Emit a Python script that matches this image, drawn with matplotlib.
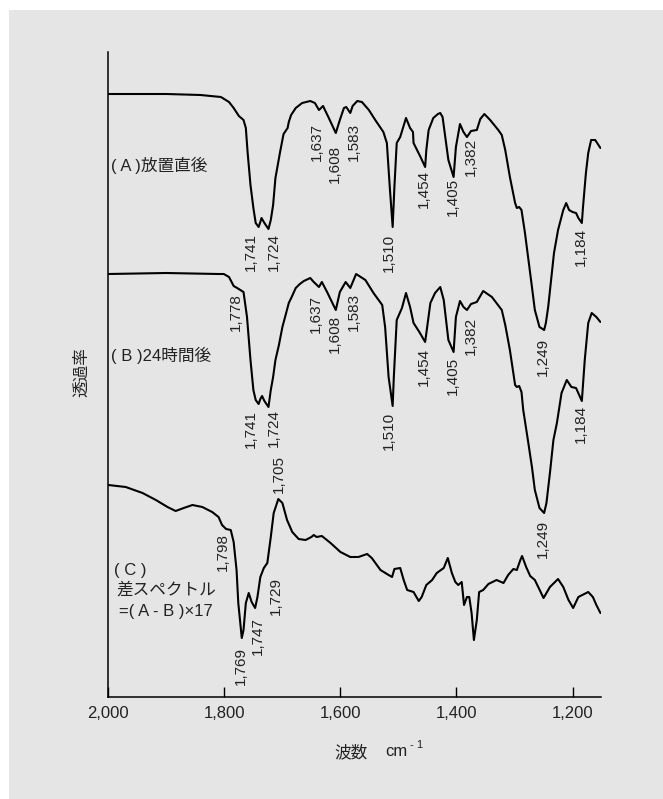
import matplotlib
matplotlib.use("Agg")
import matplotlib.pyplot as plt
from matplotlib.patches import Rectangle

plt.rcParams['font.family'] = ['Liberation Sans', 'Noto Sans CJK JP']

# spectrum (A) right after standing
wn_a = [2000, 1900, 1841, 1806, 1792, 1784, 1775, 1767, 1763, 1760, 1755, 1750, 1746,
        1741, 1738, 1736, 1731, 1724, 1720, 1716, 1712, 1704, 1698, 1691, 1689, 1685,
        1677, 1666, 1652, 1644, 1637, 1630, 1620, 1608, 1601, 1594, 1590, 1583, 1579,
        1571, 1563, 1551, 1540, 1526, 1520, 1515, 1510, 1507, 1503, 1497, 1487, 1480,
        1475, 1474, 1462, 1454, 1452, 1448, 1440, 1432, 1428, 1424, 1414, 1405, 1401,
        1394, 1388, 1382, 1375, 1365, 1359, 1352, 1342, 1328, 1322, 1316, 1308, 1299,
        1296, 1292, 1288, 1282, 1276, 1270, 1265, 1257, 1249, 1246, 1242, 1237, 1232,
        1225, 1216, 1211, 1206, 1200, 1194, 1190, 1184, 1182, 1177, 1173, 1168, 1161,
        1152]
t_a = [603, 603, 602, 600, 595, 589, 581, 577, 569, 545, 512, 489, 474,
       470, 475, 479, 474, 468, 477, 492, 519, 545, 563, 569, 575, 582,
       589, 594, 596, 594, 587, 591, 579, 564, 577, 589, 590, 584, 591,
       596, 595, 587, 577, 565, 554, 510, 470, 510, 554, 560, 579, 569,
       565, 554, 540, 530, 547, 567, 579, 583, 584, 580, 537, 520, 550,
       573, 565, 560, 566, 567, 578, 583, 577, 567, 562, 547, 520, 494,
       489, 490, 487, 464, 437, 410, 387, 370, 367, 374, 390, 417, 444,
       467, 487, 494, 487, 485, 484, 479, 474, 490, 524, 544, 557, 557,
       549]

# spectrum (B) after 24 hours
wn_b = [2000, 1900, 1810, 1801, 1792, 1784, 1778, 1767, 1761, 1755, 1750, 1746, 1741,
        1738, 1735, 1731, 1724, 1720, 1716, 1712, 1706, 1700, 1694, 1689, 1684, 1677,
        1670, 1663, 1652, 1646, 1637, 1632, 1623, 1608, 1601, 1591, 1583, 1573, 1557,
        1543, 1528, 1523, 1517, 1510, 1508, 1503, 1494, 1487, 1480, 1474, 1464, 1454,
        1445, 1437, 1428, 1422, 1414, 1405, 1401, 1394, 1388, 1382, 1375, 1365, 1354,
        1339, 1322, 1316, 1308, 1299, 1296, 1292, 1288, 1285, 1277, 1270, 1265, 1257,
        1249, 1245, 1239, 1233, 1227, 1219, 1210, 1202, 1194, 1184, 1179, 1173, 1167,
        1159, 1152]
t_b = [423, 424, 423, 423, 420, 411, 409, 405, 380, 337, 307, 297, 293,
       298, 301, 296, 290, 307, 320, 337, 352, 370, 383, 394, 400, 409,
       413, 416, 419, 415, 410, 415, 405, 387, 405, 415, 409, 423, 417,
       404, 392, 370, 320, 291, 320, 377, 389, 404, 390, 374, 365, 355,
       394, 404, 410, 397, 357, 345, 380, 396, 390, 387, 393, 395, 406,
       400, 387, 372, 347, 312, 310, 311, 305, 287, 257, 230, 207, 189,
       184, 194, 224, 257, 274, 304, 317, 310, 309, 296, 337, 374, 384,
       380, 375]

# spectrum (C) difference (A - B) x 17
wn_c = [2000, 1970, 1941, 1918, 1898, 1884, 1870, 1855, 1838, 1821, 1810, 1804, 1797,
        1789, 1784, 1779, 1776, 1770, 1767, 1763, 1758, 1753, 1747, 1743, 1738, 1732,
        1726, 1720, 1715, 1707, 1700, 1692, 1683, 1672, 1660, 1650, 1646, 1641, 1632,
        1617, 1600, 1583, 1569, 1554, 1546, 1531, 1517, 1511, 1507, 1497, 1491, 1485,
        1474, 1465, 1460, 1452, 1442, 1434, 1422, 1415, 1408, 1402, 1397, 1391, 1387,
        1382, 1378, 1374, 1370, 1365, 1361, 1354, 1345, 1331, 1319, 1311, 1302, 1296,
        1290, 1287, 1280, 1273, 1265, 1250, 1239, 1225, 1216, 1207, 1199, 1190, 1173,
        1165, 1159, 1152]
t_c = [212, 210, 204, 197, 190, 186, 189, 192, 190, 185, 180, 172, 168,
       167, 155, 127, 94, 59, 67, 94, 104, 95, 89, 100, 120, 129,
       134, 160, 184, 198, 194, 177, 165, 158, 157, 160, 162, 160, 161,
       154, 145, 140, 140, 143, 139, 127, 122, 120, 128, 129, 117, 107,
       105, 96, 100, 112, 117, 124, 129, 139, 124, 115, 112, 115, 92,
       100, 100, 84, 57, 77, 105, 107, 113, 117, 114, 122, 128, 127,
       137, 141, 130, 121, 117, 99, 110, 118, 110, 97, 89, 100, 105,
       100, 92, 84]

# peak labels: text, x, y  (va top = below the curve)
peaks_below = [
    ("1,741", 1754, 464), ("1,724", 1715, 464), ("1,637", 1640, 574),
    ("1,608", 1609, 552), ("1,583", 1576, 574), ("1,510", 1517, 463),
    ("1,454", 1456, 527), ("1,405", 1406, 519), ("1,382", 1375, 559),
    ("1,249", 1251, 359), ("1,184", 1186, 469),
    ("1,778", 1781, 404), ("1,637", 1643, 402), ("1,608", 1609, 382),
    ("1,583", 1576, 404), ("1,454", 1456, 349), ("1,405", 1406, 340),
    ("1,382", 1375, 380), ("1,741", 1754, 287), ("1,724", 1715, 288),
    ("1,510", 1517, 285), ("1,184", 1186, 292), ("1,249", 1251, 177),
    ("1,798", 1802, 164), ("1,769", 1772, 50), ("1,747", 1743, 80),
    ("1,729", 1712, 120),
]
peaks_above = [("1,705", 1706, 204)]

xticks = [2000, 1800, 1600, 1400, 1200]
xtick_labels = ["2,000", "1,800", "1,600", "1,400", "1,200"]

W, H = 663, 799
fig = plt.figure(figsize=(W / 100, H / 100), dpi=100, facecolor='white')
fig.patches.append(Rectangle((9 / W, 0), 1, 1 - 10 / H, transform=fig.transFigure,
                             facecolor='#e5e5e5', edgecolor='none', zorder=-5))

ax = fig.add_axes([108.3 / W, 1 - 696.7 / H, (601 - 108.3) / W, (696.7 - 51.7) / H])
ax.patch.set_visible(False)

for wn, t in [(wn_a, t_a), (wn_b, t_b), (wn_c, t_c)]:
    ax.plot(wn, t, color='black', lw=1.5, solid_joinstyle='round', solid_capstyle='round')

ax.set_xlim(2000, 1151)
ax.set_ylim(0.3, 645.3)

for s in ['top', 'right']:
    ax.spines[s].set_visible(False)
for s in ['left', 'bottom']:
    ax.spines[s].set_linewidth(1.1)

ax.set_yticks([])
ax.set_xticks(xticks)
ax.set_xticklabels(xtick_labels)
ax.tick_params(axis='x', direction='in', length=7, width=1, pad=7, labelsize=12,
               colors='black', labelcolor='#222222')

for txt, x, y in peaks_below:
    ax.text(x, y, txt, rotation=90, ha='center', va='top', fontsize=11, color='#222222')
for txt, x, y in peaks_above:
    ax.text(x, y, txt, rotation=90, ha='center', va='bottom', fontsize=11, color='#222222')

ax.text(1996, 532, "( A )放置直後", ha='left', va='center', fontsize=12, color='#222222')
ax.text(1996, 342, "( B )24時間後", ha='left', va='center', fontsize=12, color='#222222')
ax.text(1991, 127, "( C )", ha='left', va='center', fontsize=12, color='#222222')
ax.text(1987, 107, "差スペクトル", ha='left', va='center', fontsize=12, color='#222222')
ax.text(1982, 86, "=( A - B )×17", ha='left', va='center', fontsize=12, color='#222222')

fig.text(81.7 / W, 1 - 372 / H, "透過率", rotation=90, ha='center', va='center',
         fontsize=12, color='#222222')
fig.text(334 / W, 1 - 752 / H, "波数", ha='left', va='center', fontsize=12, color='#222222')
fig.text(385 / W, 1 - 752 / H, "cm", ha='left', va='center', fontsize=12, color='#222222')
fig.text(410 / W, 1 - 745 / H, "- 1", ha='left', va='center', fontsize=8, color='#222222')

fig.savefig("out.png", dpi=100, facecolor=fig.get_facecolor())
